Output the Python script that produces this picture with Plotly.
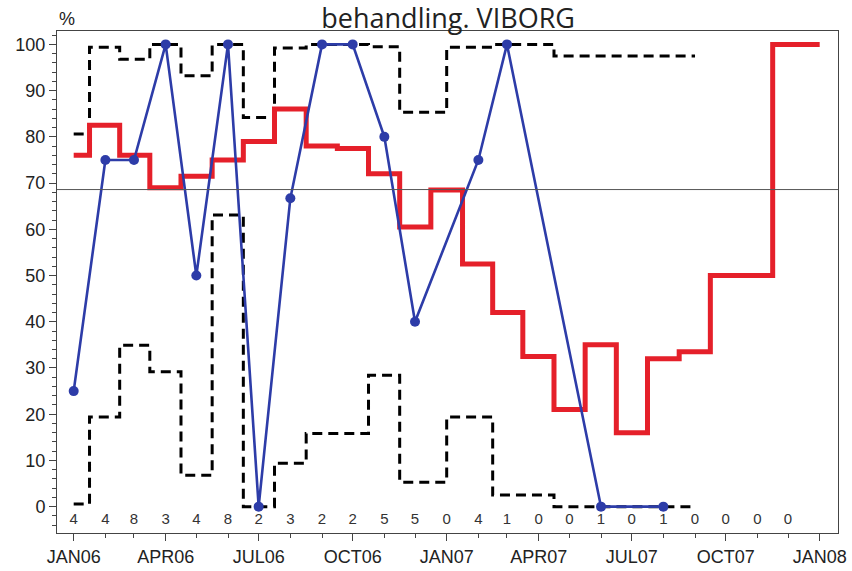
import plotly.graph_objects as go

# ---------------- data ----------------
months = ["2006-01-01", "2006-02-01", "2006-03-01", "2006-04-01", "2006-05-01", "2006-06-01",
          "2006-07-01", "2006-08-01", "2006-09-01", "2006-10-01", "2006-11-01", "2006-12-01",
          "2007-01-01", "2007-02-01", "2007-03-01", "2007-04-01", "2007-05-01", "2007-06-01",
          "2007-07-01", "2007-08-01", "2007-09-01", "2007-10-01", "2007-11-01", "2007-12-01"]
counts = [4, 4, 8, 3, 4, 8, 2, 3, 2, 2, 5, 5, 0, 4, 1, 0, 0, 1, 0, 1, 0, 0, 0, 0]
pct = [25, 75, 75, 100, 50, 100, 0, 66.7, 100, 100, 80, 40,
       None, 75, 100, None, None, 0, None, 0, None, None, None, None]
upper = [80.6, 99.4, 96.8, 100, 93.2, 100, 84.2, 99.2, 100, 100, 99.5, 85.3,
         None, 99.4, 100, None, None, 97.5, None, 97.5, 97.5, None, None, None]
lower = [0.6, 19.4, 34.9, 29.2, 6.8, 63.1, 0, 9.4, 15.8, 15.8, 28.4, 5.3,
         None, 19.4, 2.5, None, None, 0, None, 0, 0, None, None, None]
red_months = months + ["2008-01-01"]
running = [76, 82.5, 76, 69, 71.5, 75, 79, 86, 78, 77.5, 72, 60.5,
           68.5, 52.5, 42, 32.5, 21, 35, 16, 32, 33.5, 50, 50, 100, 100]
target = 68.6
tick_vals = ["2006-01-01", "2006-04-01", "2006-07-01", "2006-10-01", "2007-01-01",
             "2007-04-01", "2007-07-01", "2007-10-01", "2008-01-01"]
tick_text = ["JAN06", "APR06", "JUL06", "OCT06", "JAN07", "APR07", "JUL07", "OCT07", "JAN08"]
minor_vals = months + ["2008-01-01"]
title_text = "behandling. VIBORG"


def present(xs, ys):
    px, py = [], []
    for a, b in zip(xs, ys):
        if b is not None:
            px.append(a)
            py.append(b)
    return px, py


fig = go.Figure()

dash_style = dict(color="black", width=3, dash="10px,6px")
ux, uy = present(months, upper)
lx, ly = present(months, lower)
fig.add_trace(go.Scatter(x=ux, y=uy, mode="lines", line=dict(shape="hvh", **dash_style),
                         hoverinfo="skip", showlegend=False))
fig.add_trace(go.Scatter(x=lx, y=ly, mode="lines", line=dict(shape="hvh", **dash_style),
                         hoverinfo="skip", showlegend=False))

fig.add_trace(go.Scatter(x=red_months, y=running, mode="lines",
                         line=dict(shape="hvh", color="#e5202a", width=5),
                         showlegend=False))

bx, by = present(months, pct)
fig.add_trace(go.Scatter(x=bx, y=by, mode="lines+markers",
                         line=dict(color="#2d3ca8", width=2.6),
                         marker=dict(color="#2d3ca8", size=10),
                         showlegend=False))

fig.add_trace(go.Scatter(x=months, y=[-2.9] * len(months), mode="text",
                         text=[str(c) for c in counts],
                         textfont=dict(family="Liberation Sans, Arial", size=15, color="#333333"),
                         hoverinfo="skip", showlegend=False))

fig.add_hline(y=target, line=dict(color="#555555", width=1))

fig.update_layout(
    width=852, height=571,
    margin=dict(l=57, r=14, t=31, b=38, autoexpand=False),
    paper_bgcolor="white", plot_bgcolor="white",
    title=dict(text=title_text, x=0.526, xanchor="center", y=0.968, yanchor="middle",
               font=dict(family="Open Sans", size=27, color="#222222")),
    annotations=[dict(text="%", xref="paper", yref="paper", x=0.0, y=1.0, yshift=12,
                      xanchor="left", yanchor="middle", showarrow=False,
                      font=dict(family="Liberation Sans, Arial", size=18, color="#222222"))],
)

fig.update_xaxes(
    type="date", range=["2005-12-15 16:00", "2008-01-18 22:00"],
    tickmode="array", tickvals=tick_vals, ticktext=tick_text, automargin=False,
    ticks="outside", ticklen=7, tickwidth=1, tickcolor="#444444",
    minor=dict(tickmode="array", tickvals=minor_vals, ticks="outside", ticklen=4, tickcolor="#444444"),
    showgrid=False, zeroline=False,
    showline=True, linecolor="#444444", linewidth=1, mirror=True,
    tickfont=dict(family="Liberation Sans, Arial", size=18, color="#222222"),
)
fig.update_yaxes(
    range=[-5.7, 102.9], tick0=0, dtick=10, tickmode="linear", automargin=False,
    ticks="outside", ticklen=7, tickwidth=1, tickcolor="#444444",
    minor=dict(dtick=2, tick0=0, ticks="outside", ticklen=4, tickcolor="#444444"),
    showgrid=False, zeroline=False,
    showline=True, linecolor="#444444", linewidth=1, mirror=True,
    tickfont=dict(family="Liberation Sans, Arial", size=18, color="#222222"),
)

fig.write_html("out.html", config={"displayModeBar": False},
               post_script="document.body.style.margin='0';")
